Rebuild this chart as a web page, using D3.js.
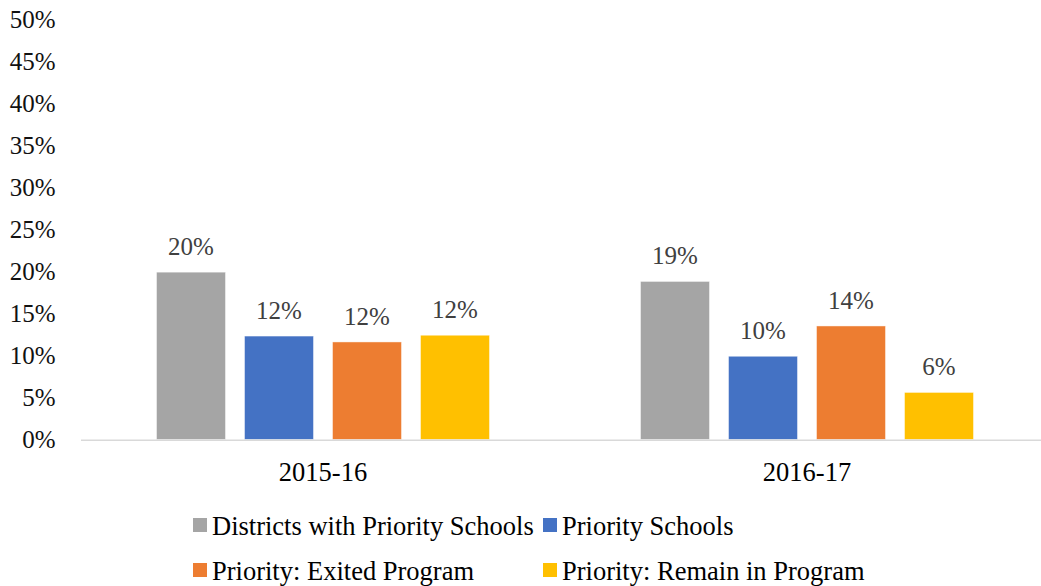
<!DOCTYPE html>
<html>
<head>
<meta charset="utf-8">
<script src="https://cdn.jsdelivr.net/npm/d3@7"></script>
<style>
  html, body { margin: 0; padding: 0; background: #fff; }
</style>
</head>
<body>
<svg id="chart" width="1041" height="586"></svg>
<script>
// School years on the category axis
const years = ["2015-16", "2016-17"];

// Series names, in legend order
const seriesNames = [
  "Districts with Priority Schools",
  "Priority Schools",
  "Priority: Exited Program",
  "Priority: Remain in Program"
];

// Share for each series, one value per school year
const districtsWithPriority = [0.199, 0.188];
const prioritySchools       = [0.123, 0.099];
const priorityExited        = [0.116, 0.135];
const priorityRemain        = [0.124, 0.056];

const seriesValues = [districtsWithPriority, prioritySchools, priorityExited, priorityRemain];
const seriesColors = ["#A5A5A5", "#4472C4", "#ED7D31", "#FFC000"];

// Y axis tick values
const yTicks = [0, 0.05, 0.10, 0.15, 0.20, 0.25, 0.30, 0.35, 0.40, 0.45, 0.50];

const FONT = "'Liberation Serif'";
const SIZE_SMALL = "25px";   // tick and value labels
const SIZE_LARGE = "26.5px"; // category labels and legend
const svg = d3.select("#chart");
const pct = d3.format(".0%");

const y = d3.scaleLinear().domain([0, 0.5]).range([439.5, 19]);

const x0 = d3.scaleBand().domain(years).range([81, 1049]).padding(0);
const x1 = d3.scaleBand()
  .domain(seriesNames)
  .range([0, x0.bandwidth()])
  .paddingInner(0.216)
  .paddingOuter(0.858);

// Y tick labels (no axis line or gridlines)
svg.append("g")
  .selectAll("text")
  .data(yTicks)
  .join("text")
  .attr("x", 55.5)
  .attr("y", d => y(d))
  .attr("dy", "0.35em")
  .attr("text-anchor", "end")
  .style("font-family", FONT)
  .style("font-size", SIZE_SMALL)
  .attr("fill", "#111")
  .text(d => pct(d));

// Bars
const groups = svg.append("g")
  .selectAll("g")
  .data(years.map((yr, i) => ({ yr, i })))
  .join("g")
  .attr("transform", d => `translate(${x0(d.yr)},0)`);

groups.selectAll("rect")
  .data(d => seriesNames.map((name, s) => ({ name, s, v: seriesValues[s][d.i] })))
  .join("rect")
  .attr("x", d => x1(d.name))
  .attr("width", x1.bandwidth())
  .attr("y", d => y(d.v))
  .attr("height", d => y(0) - y(d.v))
  .attr("fill", d => seriesColors[d.s])
  .attr("stroke", "#ffffff")
  .attr("stroke-opacity", 0.6)
  .attr("stroke-width", 0.75);

// Value labels above bars
groups.selectAll("text")
  .data(d => seriesNames.map((name, s) => ({ name, s, v: seriesValues[s][d.i] })))
  .join("text")
  .attr("x", d => x1(d.name) + x1.bandwidth() / 2)
  .attr("y", d => y(d.v) - 17)
  .attr("text-anchor", "middle")
  .style("font-family", FONT)
  .style("font-size", SIZE_SMALL)
  .attr("fill", "#404040")
  .text(d => pct(d.v));

// Category axis baseline
svg.append("line")
  .attr("x1", 81)
  .attr("x2", 1041)
  .attr("y1", y(0) + 0.75)
  .attr("y2", y(0) + 0.75)
  .attr("stroke", "#D9D9D9")
  .attr("stroke-width", 1.5);

// Category labels
svg.append("g")
  .selectAll("text")
  .data(years)
  .join("text")
  .attr("x", d => x0(d) + x0.bandwidth() / 2)
  .attr("y", 481)
  .attr("text-anchor", "middle")
  .style("font-family", FONT)
  .style("font-size", SIZE_LARGE)
  .attr("fill", "#000")
  .text(d => d);

// Legend: two columns, two rows
const legendCols = [193, 543];
const legendRows = [518, 563];
const legend = svg.append("g")
  .selectAll("g")
  .data(seriesNames)
  .join("g")
  .attr("transform", (d, i) => `translate(${legendCols[i % 2]},${legendRows[Math.floor(i / 2)]})`);

legend.append("rect")
  .attr("width", 14)
  .attr("height", 14)
  .attr("fill", (d, i) => seriesColors[i]);

legend.append("text")
  .attr("x", 19)
  .attr("y", 17)
  .style("font-family", FONT)
  .style("font-size", SIZE_LARGE)
  .attr("fill", "#000")
  .text(d => d);
</script>
</body>
</html>
